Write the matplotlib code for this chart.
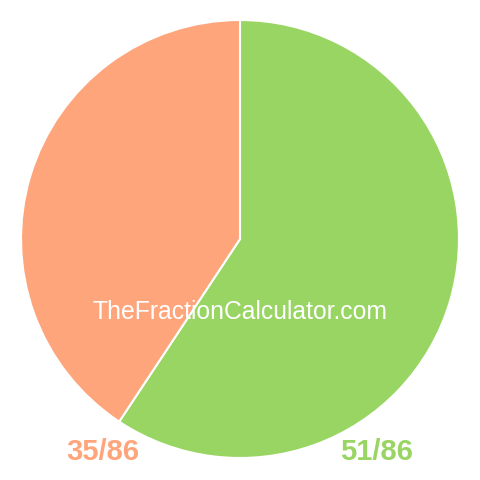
import matplotlib.pyplot as plt

# data
labels = ["51/86", "35/86"]
values = [51, 35]
colors = ["#99d563", "#ffa57c"]

fig = plt.figure(figsize=(4.8, 4.8), dpi=100)
ax = fig.add_axes([0, 0, 1, 1])

ax.pie(values, colors=colors, startangle=90, counterclock=False, radius=1,
       wedgeprops={"edgecolor": "white", "linewidth": 1.5})

# pie centre at pixel (240, 239), radius 219
r = 219.0
ax.set_xlim(-240 / r, 240 / r)
ax.set_ylim(-241 / r, 239 / r)
ax.set_aspect("equal")
ax.axis("off")

fig.text(376 / 480, 1 - 460 / 480, labels[0], color=colors[0], fontsize=21,
         fontweight="bold", family="Liberation Sans", ha="center", va="baseline")
fig.text(103 / 480, 1 - 460 / 480, labels[1], color=colors[1], fontsize=21,
         fontweight="bold", family="Liberation Sans", ha="center", va="baseline")

fig.text(240 / 480, 1 - 319 / 480, "TheFractionCalculator.com", color="white",
         fontsize=17.8, family="Liberation Sans", ha="center", va="baseline")

fig.savefig("out.png", dpi=100)
